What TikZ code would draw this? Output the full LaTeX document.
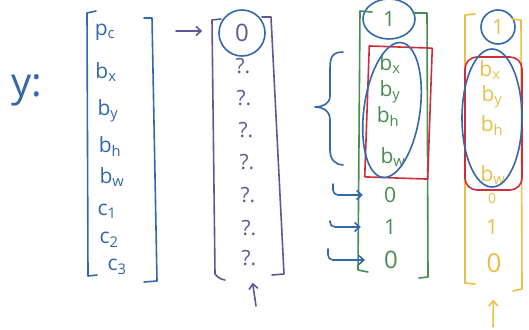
\documentclass[tikz,border=0pt]{standalone}
\usepackage{fontspec}
\setmainfont{Open Sans}
\usepackage{xcolor}
\usetikzlibrary{positioning,arrows.meta,shapes.geometric}
\definecolor{penblue}{RGB}{52,104,172}
\definecolor{penpurple}{RGB}{96,88,150}
\definecolor{pengreen}{RGB}{72,142,82}
\definecolor{penorange}{RGB}{232,192,72}
\definecolor{penred}{RGB}{206,46,60}

\begin{document}
\begin{tikzpicture}[
  x=1pt, y=-1pt,
  pen/.style={line width=1.6pt, line cap=round, line join=round},
  ent/.style={font=\fontsize{21}{22}\selectfont, inner sep=1pt},
  arr/.style={pen, -{Straight Barb[length=5pt,width=9pt]}}
]
\useasboundingbox[fill=white] (0,0) rectangle (529,329);

% first vector
\node[penblue, font=\fontsize{40}{42}\selectfont] (ylabel) at (27,90) {y:};
\node[ent, penblue] (ypc) at (105,32) {p\textsubscript{c}};
\node[ent, penblue] (ybx) at (106,72) {b\textsubscript{x}};
\node[ent, penblue] (yby) at (108,111) {b\textsubscript{y}};
\node[ent, penblue] (ybh) at (110,147) {b\textsubscript{h}};
\node[ent, penblue] (ybw) at (112,177) {b\textsubscript{w}};
\node[ent, penblue] (yc1) at (107,211) {c\textsubscript{1}};
\node[ent, penblue] (yc2) at (109,240) {c\textsubscript{2}};
\node[ent, penblue] (yc3) at (117,267) {c\textsubscript{3}};
\draw[pen, penblue] (96,11) -- (87,13) -- (88,276) -- (97,275);
\draw[pen, penblue] (144,18) -- (152,18) -- (157,281) -- (144,282);

% second vector
\node[ent, penpurple, circle, draw=penblue, pen, minimum size=46pt, font=\fontsize{24}{26}\selectfont] (pz) at (242,33) {0};
\node[ent, penpurple] (q1) at (243,66) {?.};
\node[ent, penpurple] (q2) at (244,98) {?.};
\node[ent, penpurple] (q3) at (246,130) {?.};
\node[ent, penpurple] (q4) at (247,162) {?.};
\node[ent, penpurple] (q5) at (248,195) {?.};
\node[ent, penpurple] (q6) at (249,228) {?.};
\node[ent, penpurple] (q7) at (249,258) {?.};
\draw[pen, penpurple] (221,19) -- (212,20) -- (215,274) to[bend right=20] (225,280);
\draw[pen, penpurple] (262,17) -- (271,17) -- (284,274) -- (272,275);
\coordinate (pa) at (176,31);
\coordinate (pu) at (256,306);
\draw[arr, penpurple, shorten >=16pt] (pa) -- (pz.west |- pa);
\draw[arr, penpurple, shorten >=16pt] (pu) -- (q7);

% third vector
\node[ent, pengreen, ellipse, draw=penblue, pen, minimum width=52pt, minimum height=40pt] (g1) at (389,19) {1};
\node[ent, pengreen] (gbx) at (390,64) {b\textsubscript{x}};
\node[ent, pengreen] (gby) at (390,92) {b\textsubscript{y}};
\node[ent, pengreen] (gbh) at (388,117) {b\textsubscript{h}};
\node[ent, pengreen] (gbw) at (393,157) {b\textsubscript{w}};
\node[ent, pengreen] (g0a) at (390,195) {0};
\node[ent, pengreen] (g1b) at (390,227) {1};
\node[ent, pengreen, font=\fontsize{24}{26}\selectfont] (g0c) at (391,260) {0};
\draw[pen, pengreen] (372,12) -- (360,11) -- (358,270) -- (368,272);
\draw[pen, pengreen] (413,13) -- (427,13) -- (428,277) -- (419,278);
\draw[pen, penred, rotate around={-2:(398,112)}] (367,47) rectangle (430,178);
\draw[pen, penblue, rotate around={-8:(392,110)}] (392,110) ellipse [x radius=28, y radius=68];
\draw[pen, penblue] (343,52) .. controls (330,52) and (330,60) .. (330,72)
  -- (330,96) .. controls (330,104) and (322,107) .. (315,107)
  .. controls (322,107) and (330,110) .. (330,120)
  -- (330,150) .. controls (330,160) and (336,165) .. (343,165);
\coordinate (h1) at (333,184);
\coordinate (h2) at (330,221);
\coordinate (h3) at (328,249);
\draw[arr, penblue, rounded corners=5pt, shorten >=20pt] (h1) |- (g0a);
\draw[arr, penblue, rounded corners=5pt, shorten >=22pt] (h2) |- (g1b);
\draw[arr, penblue, rounded corners=5pt, shorten >=18pt] (h3) |- (g0c);

% fourth vector
\node[ent, penorange, circle, draw=penblue, pen, minimum size=34pt] (o1) at (498,27) {1};
\node[ent, penorange] (obx) at (490,70) {b\textsubscript{x}};
\node[ent, penorange] (oby) at (492,97) {b\textsubscript{y}};
\node[ent, penorange] (obh) at (492,126) {b\textsubscript{h}};
\node[ent, penorange] (obw) at (493,175) {b\textsubscript{w}};
\node[ent, penorange, font=\fontsize{14}{15}\selectfont] (o0a) at (492,198) {0};
\node[ent, penorange] (o1b) at (492,227) {1};
\node[ent, penorange, font=\fontsize{26}{28}\selectfont] (o0c) at (494,263) {0};
\draw[pen, penorange] (475,14) -- (465,15) -- (465,283) -- (475,284);
\draw[pen, penorange] (512,19) -- (521,20) -- (522,289) -- (513,291);
\draw[pen, penred, rounded corners=12pt] (465,57) rectangle (522,190);
\draw[pen, penblue] (492,118) ellipse [x radius=30, y radius=69];
\coordinate (ou) at (493,327);
\draw[arr, penorange, shorten >=26pt] (ou) -- (o0c);
\end{tikzpicture}
\end{document}
